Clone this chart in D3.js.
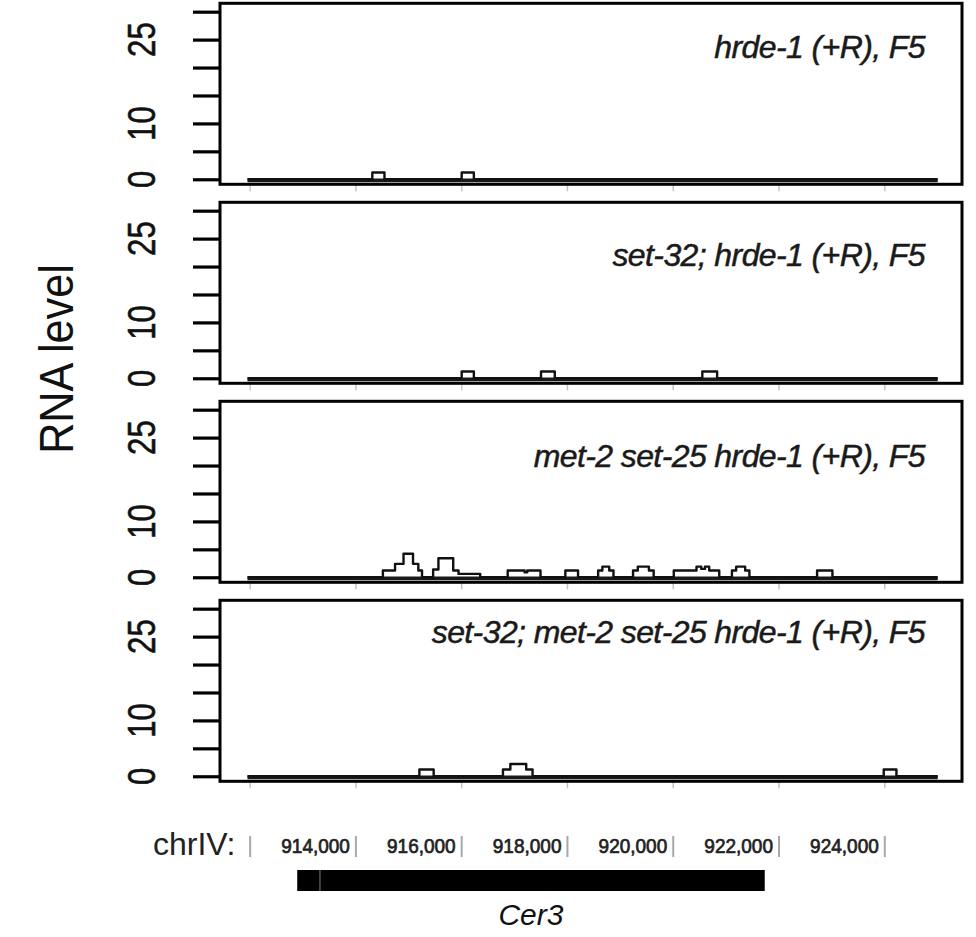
<!DOCTYPE html>
<html>
<head>
<meta charset="utf-8">
<script src="https://cdn.jsdelivr.net/npm/d3@7"></script>
<style>
  html, body { margin: 0; padding: 0; background: #fff; }
  svg { display: block; }
</style>
</head>
<body>
<svg id="chart" width="976" height="937"></svg>
<script>
// Genotype shown in each track (top to bottom)
const panelTitles = [
  "hrde-1 (+R), F5",
  "set-32; hrde-1 (+R), F5",
  "met-2 set-25 hrde-1 (+R), F5",
  "set-32; met-2 set-25 hrde-1 (+R), F5"
];

// RNA level along chrIV, as step breakpoints [position (bp), level]
const hrde1Steps = [
  [911950, 0], [914310, 1.2], [914540, 0], [916000, 1.2], [916230, 0], [925000, 0]
];
const set32Hrde1Steps = [
  [911950, 0], [916000, 1.2], [916230, 0], [917500, 1.2], [917760, 0],
  [920550, 1.2], [920830, 0], [925000, 0]
];
const metSetHrde1Steps = [
  [911950, 0],
  [914510, 1.2], [914740, 2.4], [914900, 4.2], [915080, 2.4], [915180, 1.2], [915250, 0],
  [915460, 1.4], [915560, 3.4], [915840, 1.2], [915940, 0.6], [916350, 0],
  [916870, 1.2], [917190, 0.9], [917240, 1.2], [917490, 0],
  [917960, 1.2], [918200, 0],
  [918580, 1.2], [918660, 1.9], [918790, 1.2], [918870, 0],
  [919240, 1.2], [919330, 1.9], [919540, 1.2], [919630, 0],
  [920010, 1.2], [920440, 1.9], [920530, 1.5], [920600, 1.9], [920680, 1.2], [920870, 0],
  [921110, 1.2], [921190, 1.9], [921360, 1.2], [921440, 0],
  [922720, 1.2], [923010, 0],
  [925000, 0]
];
const set32MetSetHrde1Steps = [
  [911950, 0], [915200, 1.2], [915470, 0],
  [916780, 1.2], [916920, 2.2], [917220, 1.2], [917340, 0],
  [923980, 1.2], [924220, 0], [925000, 0]
];
const panelSeries = [hrde1Steps, set32Hrde1Steps, metSetHrde1Steps, set32MetSetHrde1Steps];

// Axis values
const yTicks = [0, 5, 10, 15, 20, 25, 30];
const yTickLabels = [0, 10, 25];
const xTicks = [912000, 914000, 916000, 918000, 920000, 922000, 924000];
const coordLabels = ["914,000", "916,000", "918,000", "920,000", "922,000", "924,000"];
const coordLabelPositions = [914000, 916000, 918000, 920000, 922000, 924000];

// Annotated element
const chromosome = "chrIV:";
const geneName = "Cer3";
const geneStart = 912890;
const geneEnd = 921730;
const geneLtrEnd = 913320;

// ---- layout ----
const svg = d3.select("#chart");
const left = 220, right = 962;
const panelH = 181, panelStep = 199, firstTop = 3.3;
const titleBaseline = [55, 64, 66, 43];

const x = d3.scaleLinear().domain([911430, 925460]).range([left, right]);

const sans = "'Liberation Sans', Arial, Helvetica, sans-serif";

panelSeries.forEach((steps, i) => {
  const top = firstTop + i * panelStep;
  const y = d3.scaleLinear().domain([-0.9, 31.5]).range([top + panelH, top]);
  const g = svg.append("g");

  // faint genomic ticks under each track
  g.selectAll("line.xt").data(xTicks).join("line")
    .attr("x1", d => x(d)).attr("x2", d => x(d))
    .attr("y1", top + panelH + 1).attr("y2", top + panelH + 7)
    .attr("stroke", "#c4c4c4").attr("stroke-width", 1.5);

  // zero baseline of the track
  const ext = d3.extent(steps, d => d[0]);
  g.append("line")
    .attr("x1", x(ext[0])).attr("x2", x(ext[1]))
    .attr("y1", y(0) + 1.2).attr("y2", y(0) + 1.2)
    .attr("stroke", "#1a1a1a").attr("stroke-width", 3.8);

  // RNA level trace
  const line = d3.line().x(d => x(d[0])).y(d => y(d[1])).curve(d3.curveStepAfter);
  g.append("path").datum(steps)
    .attr("d", line)
    .attr("fill", "none").attr("stroke", "#111").attr("stroke-width", 2.4)
    .attr("stroke-linejoin", "round");

  // frame
  g.append("rect")
    .attr("x", left).attr("y", top)
    .attr("width", right - left).attr("height", panelH)
    .attr("fill", "none").attr("stroke", "#000").attr("stroke-width", 3);

  // y axis ticks
  const yAxis = d3.axisLeft(y).tickValues(yTicks).tickSize(27).tickFormat("");
  const ya = g.append("g").attr("transform", `translate(${left},0)`).call(yAxis);
  ya.select(".domain").remove();
  ya.selectAll(".tick line").attr("stroke", "#000").attr("stroke-width", 3.2);

  // rotated y labels
  g.selectAll("text.yl").data(yTickLabels).join("text")
    .attr("transform", d => `translate(155,${y(d)}) rotate(-90) scale(0.82,1)`)
    .attr("text-anchor", "middle")
    .attr("font-family", sans)
    .attr("font-size", 38)
    .attr("fill", "#111")
    .attr("stroke", "#111").attr("stroke-width", 0.6)
    .text(d => d);

  // genotype title
  g.append("text")
    .attr("x", 925).attr("y", top + titleBaseline[i])
    .attr("text-anchor", "end")
    .attr("font-family", sans)
    .attr("font-style", "italic")
    .attr("font-size", 32)
    .attr("letter-spacing", -0.6)
    .attr("fill", "#1a1a1a")
    .attr("stroke", "#1a1a1a").attr("stroke-width", 0.5)
    .text(panelTitles[i]);
});

// shared y label
svg.append("text")
  .attr("transform", "translate(73,359) rotate(-90) scale(0.9,1)")
  .attr("text-anchor", "middle")
  .attr("font-family", sans)
  .attr("font-size", 48)
  .attr("fill", "#111")
  .text("RNA level");

// chromosome coordinate ruler
svg.append("text")
  .attr("x", 153).attr("y", 855)
  .attr("font-family", sans).attr("font-size", 32)
  .attr("fill", "#222")
  .text(chromosome);

svg.selectAll("line.coordbar").data(xTicks).join("line")
  .attr("x1", d => x(d)).attr("x2", d => x(d))
  .attr("y1", 836).attr("y2", 857)
  .attr("stroke", "#a8a8a8").attr("stroke-width", 2);

svg.selectAll("text.coord").data(coordLabels).join("text")
  .attr("transform", (d, i) => `translate(${x(coordLabelPositions[i]) - 6},853) scale(0.95,1)`)
  .attr("text-anchor", "end")
  .attr("font-family", sans)
  .attr("font-size", 20)
  .attr("fill", "#222")
  .attr("stroke", "#222").attr("stroke-width", 0.7)
  .text(d => d);

// Cer3 element
svg.append("rect")
  .attr("x", x(geneStart)).attr("y", 870)
  .attr("width", x(geneEnd) - x(geneStart)).attr("height", 21)
  .attr("fill", "#000");
svg.append("line")
  .attr("x1", x(geneLtrEnd)).attr("x2", x(geneLtrEnd))
  .attr("y1", 870).attr("y2", 891)
  .attr("stroke", "#555").attr("stroke-width", 1.5);

svg.append("text")
  .attr("x", (x(geneStart) + x(geneEnd)) / 2).attr("y", 925)
  .attr("text-anchor", "middle")
  .attr("font-family", sans).attr("font-style", "italic")
  .attr("font-size", 30)
  .attr("fill", "#111")
  .text(geneName);
</script>
</body>
</html>
